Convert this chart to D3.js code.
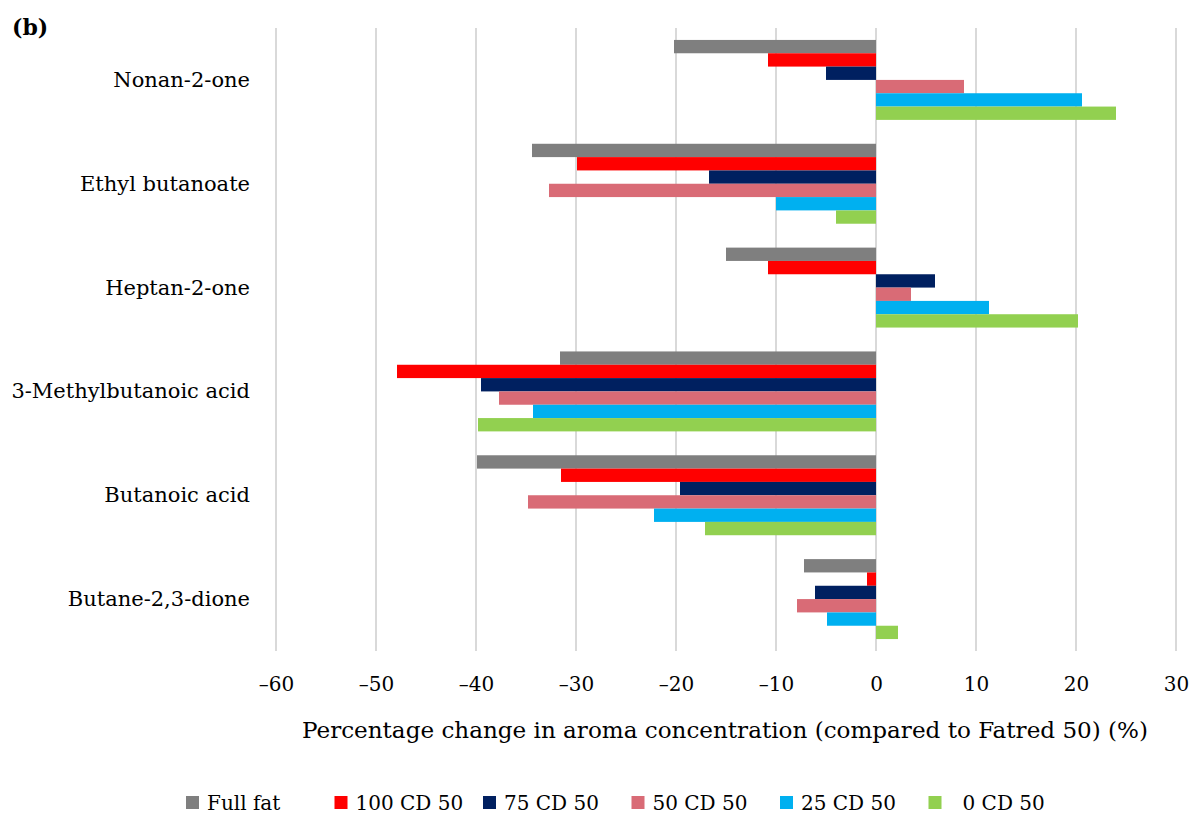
<!DOCTYPE html>
<html>
<head>
<meta charset="utf-8">
<script src="https://cdn.jsdelivr.net/npm/d3@7"></script>
<style>
  html, body { margin: 0; padding: 0; background: #fff; }
  svg { display: block; }
  text { font-family: "DejaVu Serif", serif; fill: #000; }
</style>
</head>
<body>
<svg id="chart" width="1191" height="815"></svg>
<script>
const categories = ["Nonan-2-one", "Ethyl butanoate", "Heptan-2-one", "3-Methylbutanoic acid", "Butanoic acid", "Butane-2,3-dione"];
const seriesNames = ["Full fat", "100 CD 50", "75 CD 50", "50 CD 50", "25 CD 50", "0 CD 50"];
const seriesColors = ["#7f7f7f", "#ff0000", "#002060", "#d96b76", "#00b0f0", "#92d050"];
const fullFat  = [-20.2, -34.4, -15.0, -31.6, -39.9, -7.2];
const cd100    = [-10.8, -29.9, -10.8, -47.9, -31.5, -0.9];
const cd75     = [-5.0, -16.7, 5.9, -39.5, -19.6, -6.1];
const cd50     = [8.8, -32.7, 3.5, -37.7, -34.8, -7.9];
const cd25     = [20.6, -10.0, 11.3, -34.3, -22.2, -4.9];
const cd0      = [24.0, -4.0, 20.2, -39.8, -17.1, 2.2];
const xTicks = [-60, -50, -40, -30, -20, -10, 0, 10, 20, 30];
const xTitle = "Percentage change in aroma concentration (compared to Fatred 50) (%)";
const panelLabel = "(b)";

const seriesValues = [fullFat, cd100, cd75, cd50, cd25, cd0];

const svg = d3.select("#chart");
const margin = { left: 276, right: 15, top: 28, bottom: 164 };
const W = 1191, H = 815;

const x = d3.scaleLinear().domain([-60, 30]).range([margin.left, W - margin.right]);
const y0 = d3.scaleBand().domain(categories).range([margin.top, H - margin.bottom]).paddingInner(0.23).paddingOuter(0.115);
const y1 = d3.scaleBand().domain(seriesNames).range([0, y0.bandwidth()]);

// gridlines
svg.append("g").selectAll("line").data(xTicks).join("line")
  .attr("x1", d => x(d)).attr("x2", d => x(d))
  .attr("y1", margin.top).attr("y2", H - margin.bottom)
  .attr("stroke", "#d9d9d9").attr("stroke-width", 2);

// bars
const groups = svg.append("g").selectAll("g").data(categories).join("g")
  .attr("transform", d => `translate(0,${y0(d)})`);
groups.selectAll("rect")
  .data((c, ci) => seriesNames.map((s, si) => ({ s, si, v: seriesValues[si][ci] })))
  .join("rect")
  .attr("x", d => Math.min(x(0), x(d.v)))
  .attr("width", d => Math.abs(x(d.v) - x(0)))
  .attr("y", d => y1(d.s))
  .attr("height", y1.bandwidth())
  .attr("fill", d => seriesColors[d.si]);

// x axis (labels only)
const xAxis = d3.axisBottom(x).tickValues(xTicks).tickSize(0).tickPadding(0)
  .tickFormat(d => d < 0 ? "\u2013" + Math.abs(d) : String(d));
const gx = svg.append("g").attr("transform", `translate(0,${H - margin.bottom + 26})`).call(xAxis);
gx.select(".domain").remove();
gx.selectAll("text").attr("font-size", 20).attr("font-family", null).attr("fill", "#000");

// category labels
svg.append("g").selectAll("text").data(categories).join("text")
  .attr("x", 250).attr("y", d => y0(d) + y0.bandwidth() / 2)
  .attr("text-anchor", "end").attr("dominant-baseline", "central")
  .attr("font-size", 21).text(d => d);

// x title
svg.append("text").attr("x", 725).attr("y", 738).attr("text-anchor", "middle")
  .attr("font-size", 22).attr("textLength", 846).attr("lengthAdjust", "spacingAndGlyphs")
  .text(xTitle);

// panel label
svg.append("text").attr("x", 12).attr("y", 35).attr("font-size", 22).attr("font-weight", "bold").text(panelLabel);

// legend
const legendX = d3.scalePoint().domain(seriesNames).range([186, 186 + 148.5 * 5]);
const lg = svg.append("g").selectAll("g").data(seriesNames).join("g")
  .attr("transform", d => `translate(${legendX(d)},0)`);
lg.append("rect").attr("x", 0).attr("y", 796).attr("width", 13).attr("height", 13)
  .attr("fill", (d, i) => seriesColors[i]);
lg.append("text").attr("x", (d, i) => i === 5 ? 34 : 21).attr("y", 810).attr("font-size", 20).text(d => d);
</script>
</body>
</html>
